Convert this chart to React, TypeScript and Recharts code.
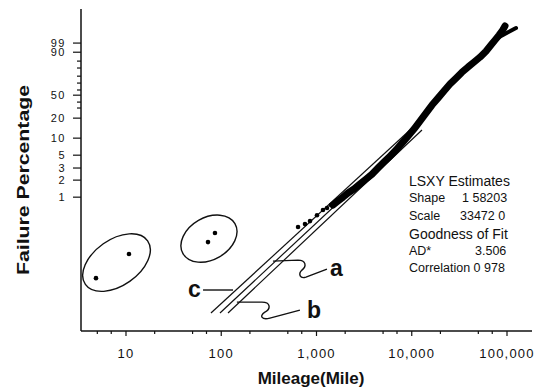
import { ComposedChart, XAxis, YAxis, Scatter, Line, ReferenceDot } from 'recharts'

// Weibull probability plot: x = mileage (log), y = ln(-ln(1-F))
const xDomain = [3.37, 183000]
const yDomain = [-10.12, 2.92]

const xMajorTicks = [10, 100, 1000, 10000, 100000]
const xMajorLabels = ['10', '100', '1,000', '10,000', '100,000']
const xMinorTicks = [5, 7, 20, 50, 70, 200, 500, 700, 2000, 5000, 7000, 20000, 50000, 70000]

const yTickValues = [1.54, 1.17, 0.81, 0.53, 0.2, -0.08, -0.36, -0.57, -0.85, -1.09, -1.5, -2.31, -3.0, -3.52, -4.01, -4.7]
const yTickLabels = ['99', '90', '', '', '', '', '', '50', '', '', '20', '10', '5', '3', '2', '1']

// early failures (circled groups)
const earlyA = [
  { x: 4.84, y: -7.98 },
  { x: 10.75, y: -7.0 },
]
const earlyB = [
  { x: 72.6, y: -6.52 },
  { x: 85.9, y: -6.15 },
]

// sparse lower points of the main population
const lowerDots = [
  { x: 640, y: -5.91 },
  { x: 757, y: -5.79 },
  { x: 855, y: -5.67 },
  { x: 1012, y: -5.43 },
  { x: 1170, y: -5.22 },
  { x: 1290, y: -5.14 },
  { x: 1420, y: -5.02 },
]

// dense band of the main population
const band = [
  { x: 1490, y: -5.02 },
  { x: 1681, y: -4.86 },
  { x: 1898, y: -4.7 },
  { x: 2141, y: -4.53 },
  { x: 2475, y: -4.37 },
  { x: 2862, y: -4.17 },
  { x: 3309, y: -3.97 },
  { x: 3824, y: -3.77 },
  { x: 4422, y: -3.52 },
  { x: 5112, y: -3.28 },
  { x: 5911, y: -3.04 },
  { x: 6833, y: -2.79 },
  { x: 7901, y: -2.51 },
  { x: 9133, y: -2.23 },
  { x: 10560, y: -1.94 },
  { x: 12210, y: -1.62 },
  { x: 14110, y: -1.3 },
  { x: 16320, y: -0.97 },
  { x: 18860, y: -0.69 },
  { x: 21810, y: -0.4 },
  { x: 25210, y: -0.12 },
  { x: 29150, y: 0.12 },
  { x: 33700, y: 0.36 },
  { x: 38960, y: 0.57 },
  { x: 45040, y: 0.77 },
  { x: 52060, y: 0.97 },
  { x: 60180, y: 1.21 },
  { x: 67920, y: 1.46 },
  { x: 74820, y: 1.66 },
  { x: 82410, y: 1.86 },
  { x: 88600, y: 2.02 },
  { x: 95280, y: 2.23 },
]

// last few points forming the fork at the top
const topBranch = [
  { x: 78540, y: 1.74 },
  { x: 102400, y: 1.98 },
  { x: 124300, y: 2.15 },
]

// fitted lines (upper ends run into the data band)
const lineC = [
  { x: 78.0, y: -9.39 },
  { x: 9586, y: -1.98 },
]
const lineA = [
  { x: 97.0, y: -9.39 },
  { x: 11080, y: -1.98 },
]
const lineB = [
  { x: 117.8, y: -9.39 },
  { x: 12810, y: -1.98 },
]

// annotation anchors
const ellipseA = { x: 7.95, y: -7.35 }
const ellipseB = { x: 74.3, y: -6.38 }
const anchorA = { x: 349, y: -7.29 }
const anchorB = { x: 146, y: -8.95 }
const anchorC = { x: 133, y: -8.46 }

const FONT = '"Liberation Sans", Arial, Helvetica, sans-serif'
const INK = '#111'

function BottomTick(props: any) {
  const { x, y, payload } = props
  const i = xMajorTicks.indexOf(payload.value)
  const major = i >= 0
  return (
    <g>
      <line x1={x} x2={x} y1={y} y2={y + (major ? 5 : 3)} stroke={INK} strokeWidth={1.2} />
      {major && (
        <text x={x} y={y + 27} textAnchor="middle" fontSize={13} letterSpacing={1.2} fontFamily={FONT} fill={INK}>
          {xMajorLabels[i]}
        </text>
      )}
    </g>
  )
}

function LeftTick(props: any) {
  const { x, y, index } = props
  const label = yTickLabels[index]
  const major = label !== ''
  return (
    <g>
      <line x1={x - (major ? 8 : 4)} x2={x} y1={y} y2={y} stroke={INK} strokeWidth={1.2} />
      {major && (
        <text x={x - 15} y={y} dy="0.36em" textAnchor="end" fontSize={11} letterSpacing={1.5} fontFamily={FONT} fill={INK}>
          {label}
        </text>
      )}
    </g>
  )
}

const EmptyTick = () => <g />

const dotShape = (p: any) => <circle cx={p.cx} cy={p.cy} r={2.3} fill="#000" />

export default function App() {
  return (
    <div style={{ position: 'absolute', left: 0, top: 0, width: 541, height: 392, background: '#fff' }}>
      <ComposedChart width={541} height={392} margin={{ top: 9, right: 9, bottom: 0, left: 0 }}>
        <XAxis
          type="number"
          dataKey="x"
          scale="log"
          domain={xDomain}
          allowDataOverflow
          ticks={[...xMajorTicks, ...xMinorTicks]}
          interval={0}
          tickSize={0}
          tickMargin={0}
          tickLine={false}
          tick={<BottomTick />}
          axisLine={{ stroke: INK, strokeWidth: 1.5 }}
          height={61}
        />
        <XAxis
          xAxisId="top"
          orientation="top"
          type="number"
          scale="log"
          domain={xDomain}
          allowDataOverflow
          ticks={[...xMajorTicks, ...xMinorTicks]}
          interval={0}
          mirror
          tickSize={2}
          tick={<EmptyTick />}
          tickLine={{ stroke: INK }}
          axisLine={{ stroke: INK, strokeWidth: 1.5 }}
          height={0}
        />
        <YAxis
          type="number"
          dataKey="y"
          domain={yDomain}
          allowDataOverflow
          ticks={yTickValues}
          interval={0}
          tickSize={0}
          tickMargin={0}
          tickLine={false}
          tick={<LeftTick />}
          axisLine={{ stroke: INK, strokeWidth: 1.5 }}
          width={81}
        />
        <YAxis
          yAxisId="right"
          orientation="right"
          type="number"
          domain={yDomain}
          allowDataOverflow
          ticks={yTickValues}
          interval={0}
          mirror
          tickSize={2}
          tick={<EmptyTick />}
          tickLine={{ stroke: INK }}
          axisLine={{ stroke: INK, strokeWidth: 1.5 }}
          width={0}
        />

        <Line data={lineC} dataKey="y" type="linear" stroke={INK} strokeWidth={1.2} dot={false} isAnimationActive={false} />
        <Line data={lineA} dataKey="y" type="linear" stroke={INK} strokeWidth={1.2} dot={false} isAnimationActive={false} />
        <Line data={lineB} dataKey="y" type="linear" stroke={INK} strokeWidth={1.2} dot={false} isAnimationActive={false} />
        <Line
          data={band}
          dataKey="y"
          type="linear"
          stroke="#000"
          strokeWidth={7}
          strokeLinejoin="round"
          strokeLinecap="round"
          dot={false}
          isAnimationActive={false}
        />
        <Line
          data={topBranch}
          dataKey="y"
          type="linear"
          stroke="#000"
          strokeWidth={4}
          strokeLinecap="round"
          dot={false}
          isAnimationActive={false}
        />
        <Scatter data={lowerDots} dataKey="y" shape={dotShape} isAnimationActive={false} />
        <Scatter data={earlyA} dataKey="y" shape={dotShape} isAnimationActive={false} />
        <Scatter data={earlyB} dataKey="y" shape={dotShape} isAnimationActive={false} />

        <ReferenceDot
          x={ellipseA.x}
          y={ellipseA.y}
          shape={(p: any) => (
            <ellipse cx={p.cx} cy={p.cy} rx={38} ry={23} transform={`rotate(-35 ${p.cx} ${p.cy})`} fill="none" stroke={INK} strokeWidth={1.4} />
          )}
        />
        <ReferenceDot
          x={ellipseB.x}
          y={ellipseB.y}
          shape={(p: any) => (
            <ellipse cx={p.cx} cy={p.cy} rx={30} ry={21} transform={`rotate(-30 ${p.cx} ${p.cy})`} fill="none" stroke={INK} strokeWidth={1.4} />
          )}
        />
        <ReferenceDot
          x={anchorA.x}
          y={anchorA.y}
          shape={(p: any) => (
            <g transform={`translate(${p.cx} ${p.cy})`}>
              <path d="M0,0 L25,-1 C33,-1 34,5 29,9 C25,13 27,18 33,16 L54,8" fill="none" stroke={INK} strokeWidth={1.4} />
              <text x={57} y={15} fontSize={23} fontWeight="bold" fontFamily={FONT} fill={INK}>a</text>
            </g>
          )}
        />
        <ReferenceDot
          x={anchorB.x}
          y={anchorB.y}
          shape={(p: any) => (
            <g transform={`translate(${p.cx} ${p.cy})`}>
              <path d="M0,0 L25,0 C34,0 34,7 28,10 C22,14 25,18 33,16 L63,8" fill="none" stroke={INK} strokeWidth={1.4} />
              <text x={70} y={16} fontSize={23} fontWeight="bold" fontFamily={FONT} fill={INK}>b</text>
            </g>
          )}
        />
        <ReferenceDot
          x={anchorC.x}
          y={anchorC.y}
          shape={(p: any) => (
            <g transform={`translate(${p.cx} ${p.cy})`}>
              <path d="M0,0 L-30,0" fill="none" stroke={INK} strokeWidth={1.4} />
              <text x={-45} y={7} fontSize={23} fontWeight="bold" fontFamily={FONT} fill={INK}>c</text>
            </g>
          )}
        />

        <g fontFamily={FONT} fill={INK}>
          <text x={409} y={186} fontSize={14}>LSXY Estimates</text>
          <text x={409} y={202} fontSize={12.5}>Shape</text>
          <text x={462} y={202} fontSize={12.5}>1 58203</text>
          <text x={409} y={220} fontSize={12.5}>Scale</text>
          <text x={460} y={220} fontSize={12.5}>33472 0</text>
          <text x={409} y={239} fontSize={14}>Goodness of Fit</text>
          <text x={409} y={255} fontSize={12.5}>AD*</text>
          <text x={475} y={255} fontSize={12.5}>3.506</text>
          <text x={409} y={272} fontSize={12.5}>Correlation 0 978</text>
          <text
            transform="translate(29 180) rotate(-90)"
            textAnchor="middle"
            fontSize={17}
            fontWeight="bold"
            textLength={190}
            lengthAdjust="spacingAndGlyphs"
          >
            Failure Percentage
          </text>
          <text x={311} y={384} textAnchor="middle" fontSize={17} fontWeight="bold">
            Mileage(Mile)
          </text>
        </g>
      </ComposedChart>
    </div>
  )
}
